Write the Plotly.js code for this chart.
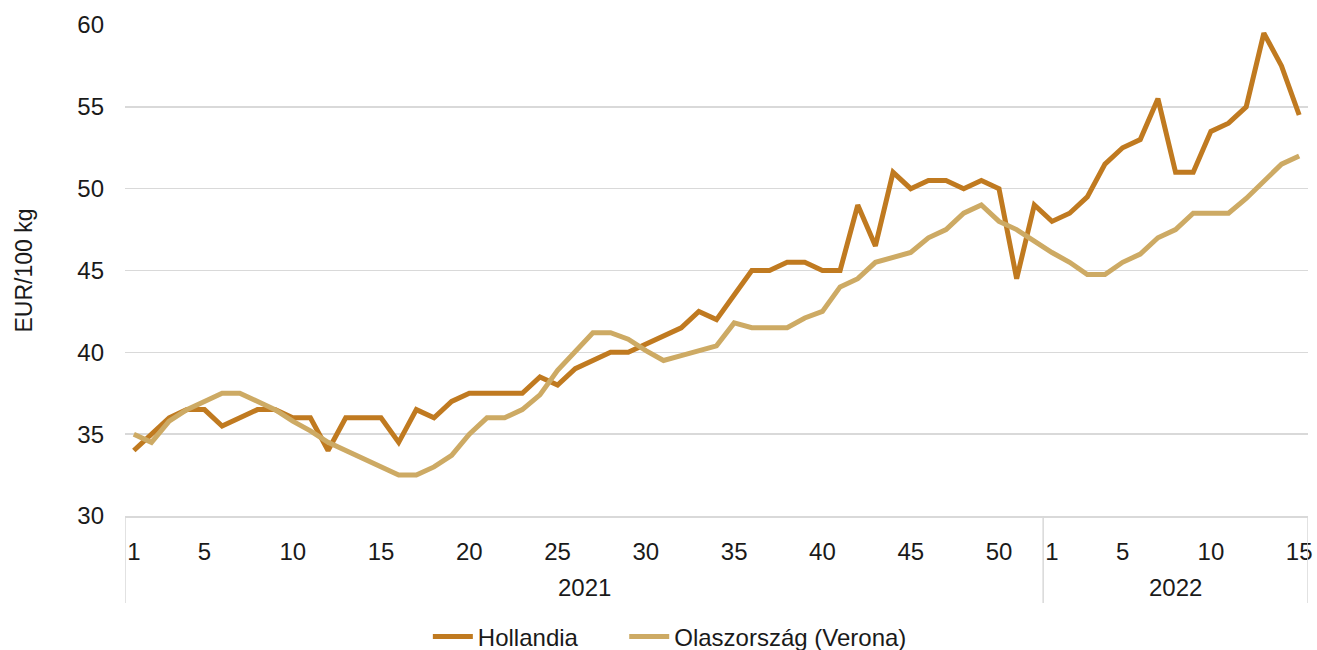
<!DOCTYPE html>
<html>
<head>
<meta charset="utf-8">
<script src="https://cdn.plot.ly/plotly-3.0.1.min.js"></script>
<style>html,body{margin:0;padding:0;background:#fff;}#chart{width:1317px;height:650px;}</style>
</head>
<body>
<div id="chart"></div>
<script>
// ---- data ----
const years = ["2021", "2022"];
const weeks2021 = [1,2,3,4,5,6,7,8,9,10,11,12,13,14,15,16,17,18,19,20,21,22,23,24,25,26,27,28,29,30,31,32,33,34,35,36,37,38,39,40,41,42,43,44,45,46,47,48,49,50,51,52];
const weeks2022 = [1,2,3,4,5,6,7,8,9,10,11,12,13,14,15];

const hollandia2021 = [34,35,36,36.5,36.5,35.5,36,36.5,36.5,36,36,34,36,36,36,34.5,36.5,36,37,37.5,37.5,37.5,37.5,38.5,38,39,39.5,40,40,40.5,41,41.5,42.5,42,43.5,45,45,45.5,45.5,45,45,49,46.5,51,50,50.5,50.5,50,50.5,50,44.5,49];
const hollandia2022 = [48,48.5,49.5,51.5,52.5,53,55.5,51,51,53.5,54,55,59.5,57.5,54.5];

const olasz2021 = [35,34.5,35.8,36.5,37,37.5,37.5,37,36.5,35.8,35.2,34.5,34,33.5,33,32.5,32.5,33,33.7,35,36,36,36.5,37.4,38.9,40,41.2,41.2,40.8,40.1,39.5,39.8,40.1,40.4,41.8,41.5,41.5,41.5,42.1,42.5,44,44.5,45.5,45.8,46.1,47,47.5,48.5,49,48,47.5,46.8];
const olasz2022 = [46.1,45.5,44.75,44.75,45.5,46,47,47.5,48.5,48.5,48.5,49.4,50.4,51.5,52];

const seriesNames = ["Hollandia", "Olaszország (Verona)"];
const yTitle = "EUR/100 kg";

// ---- build ----
const weeksAll = weeks2021.concat(weeks2022);
const xIdx = weeksAll.map((_, i) => i);
const tickvals = [], ticktext = [];
weeksAll.forEach((w, i) => { if (w === 1 || w % 5 === 0) { tickvals.push(i); ticktext.push(String(w)); } });

const n1 = weeks2021.length, n2 = weeks2022.length;
const font = "Liberation Sans, Arial, sans-serif";
const txtColor = "#1a1a1a";
const gridColor = "#d9d9d9";
const fs = 24;

const traces = [
  {x: xIdx, y: hollandia2021.concat(hollandia2022), name: seriesNames[0], type: "scatter", mode: "lines",
   legend: "legend", line: {color: "#c07a20", width: 5}},
  {x: xIdx, y: olasz2021.concat(olasz2022), name: seriesNames[1], type: "scatter", mode: "lines",
   legend: "legend2", line: {color: "#cdaa64", width: 5}}
];

const sepBottom = -0.177;
const boundaries = [-0.5, n1 - 0.5, n1 + n2 - 0.5];
const shapes = boundaries.map(b => ({type: "line", xref: "x", yref: "paper", x0: b, x1: b, y0: 0, y1: sepBottom,
  line: {color: gridColor, width: 1.5}}));

const annotations = [
  {x: (n1 - 1) / 2, y: -0.145, xref: "x", yref: "paper", text: years[0], showarrow: false,
   font: {family: font, size: fs, color: txtColor}, yanchor: "middle"},
  {x: n1 + (n2 - 1) / 2, y: -0.145, xref: "x", yref: "paper", text: years[1], showarrow: false,
   font: {family: font, size: fs, color: txtColor}, yanchor: "middle"}
];

const legendBase = {orientation: "h", xanchor: "left", y: -0.246, yanchor: "middle",
  font: {family: font, size: fs, color: txtColor}, itemwidth: 40, bgcolor: "rgba(0,0,0,0)"};

const layout = {
  width: 1317, height: 650,
  margin: {l: 125, r: 9, t: 25, b: 134, autoexpand: false},
  paper_bgcolor: "#fff", plot_bgcolor: "#fff",
  font: {family: font, size: fs, color: txtColor},
  showlegend: true,
  legend: Object.assign({}, legendBase, {x: 0.256}),
  legend2: Object.assign({}, legendBase, {x: 0.422}),
  xaxis: {range: [-0.5, n1 + n2 - 0.5], tickmode: "array", tickvals: tickvals, ticktext: ticktext,
    showgrid: false, zeroline: false, showline: true, linecolor: gridColor, linewidth: 1.5,
    ticks: "", ticklabelstandoff: 14, automargin: false, tickfont: {family: font, size: fs, color: txtColor}},
  yaxis: {range: [30, 60], dtick: 5, tick0: 30, showgrid: true, gridcolor: gridColor, gridwidth: 1.5,
    zeroline: false, showline: false, ticks: "", ticklabelstandoff: 20, automargin: false,
    tickfont: {family: font, size: fs, color: txtColor},
    title: {text: yTitle, standoff: 38, font: {family: font, size: 23, color: txtColor}}},
  shapes: shapes,
  annotations: annotations
};

Plotly.newPlot("chart", traces, layout, {displayModeBar: false, staticPlot: true});
</script>
</body>
</html>
